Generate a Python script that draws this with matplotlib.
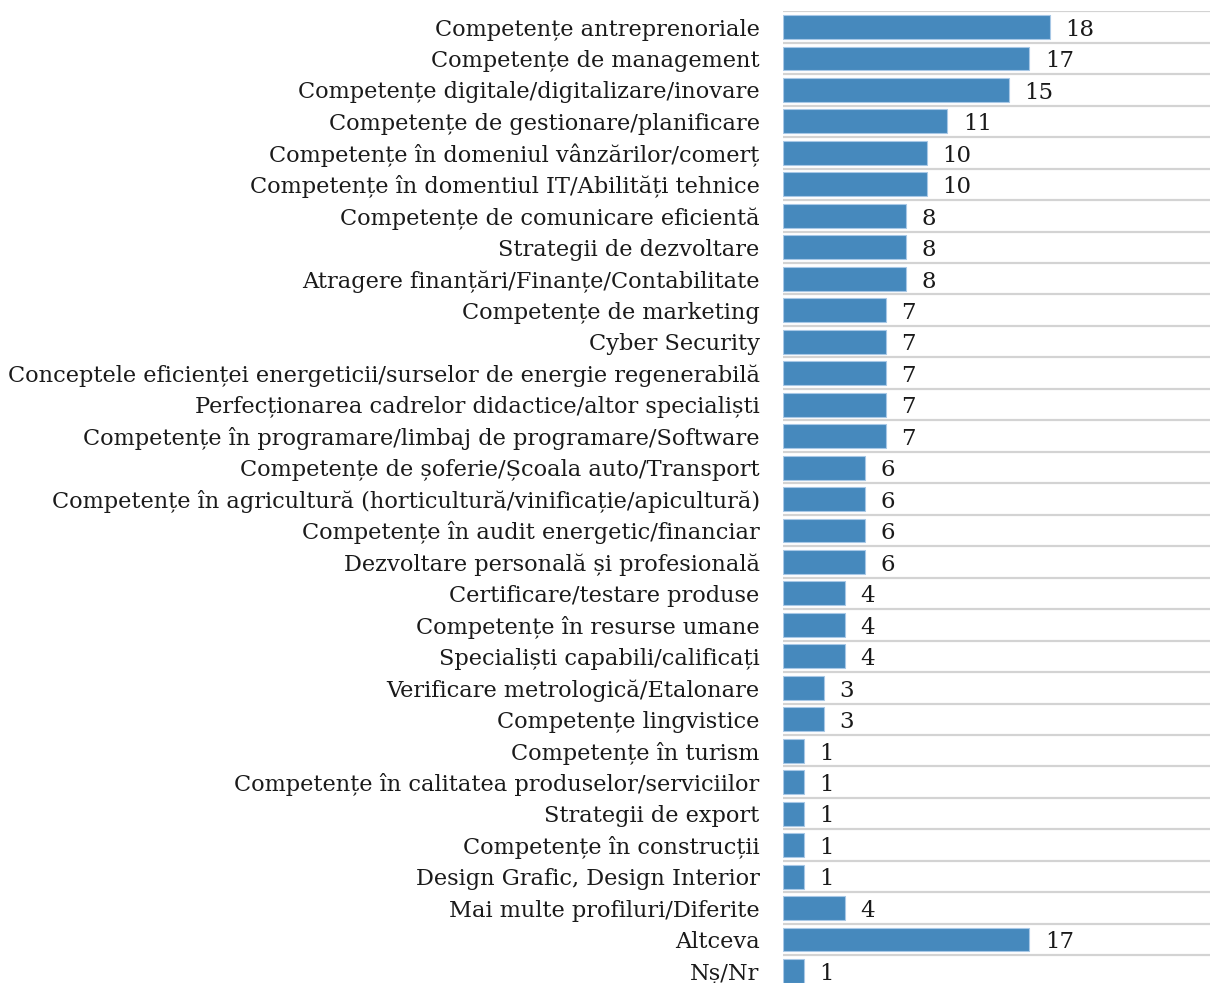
import matplotlib
matplotlib.use("Agg")
import matplotlib.pyplot as plt

categories = [
    "Competențe antreprenoriale",
    "Competențe de management",
    "Competențe digitale/digitalizare/inovare",
    "Competențe de gestionare/planificare",
    "Competențe în domeniul vânzărilor/comerț",
    "Competențe în domentiul IT/Abilități tehnice",
    "Competențe de comunicare eficientă",
    "Strategii de dezvoltare",
    "Atragere finanțări/Finanțe/Contabilitate",
    "Competențe de marketing",
    "Cyber Security",
    "Conceptele eficienței energeticii/surselor de energie regenerabilă",
    "Perfecționarea cadrelor didactice/altor specialiști",
    "Competențe în programare/limbaj de programare/Software",
    "Competențe de șoferie/Școala auto/Transport",
    "Competențe în agricultură (horticultură/vinificație/apicultură)",
    "Competențe în audit energetic/financiar",
    "Dezvoltare personală și profesională",
    "Certificare/testare produse",
    "Competențe în resurse umane",
    "Specialiști capabili/calificați",
    "Verificare metrologică/Etalonare",
    "Competențe lingvistice",
    "Competențe în turism",
    "Competențe în calitatea produselor/serviciilor",
    "Strategii de export",
    "Competențe în construcții",
    "Design Grafic, Design Interior",
    "Mai multe profiluri/Diferite",
    "Altceva",
    "Nș/Nr",
]

# numbers printed next to the bars
counts = [18, 17, 15, 11, 10, 10, 8, 8, 8, 7, 7, 7, 7, 7, 6, 6, 6, 6,
          4, 4, 4, 3, 3, 1, 1, 1, 1, 1, 4, 17, 1]

# bar lengths as drawn in the picture (not proportional to the printed numbers)
bar_len = [13, 12, 11, 8, 7, 7, 6, 6, 6, 5, 5, 5, 5, 5, 4, 4, 4, 4,
           3, 3, 3, 2, 2, 1, 1, 1, 1, 1, 3, 12, 1]

plt.rcParams['font.family'] = ['DejaVu Serif']

fig = plt.figure(figsize=(12.10, 9.83), dpi=100)
ax = fig.add_axes([0.6474, -0.0038, 0.3526, 0.9923])

y = list(range(len(categories)))
xmax = 20.8

# separator lines between rows
ax.hlines([i - 0.5 for i in range(len(categories) + 1)], 0, xmax,
          color='#d3d3d3', linewidth=1.6, zorder=1)

ax.barh(y, bar_len, height=0.76, color='#4689BD', edgecolor='#a8c8e6',
        linewidth=0.8, zorder=2)

for yi, w, c in zip(y, bar_len, counts):
    ax.annotate(str(c), xy=(w, yi), xytext=(11, -2), textcoords='offset points',
                va='center', ha='left', fontsize=16.5, color='#1a1a1a')

ax.set_xlim(0, xmax)
ax.set_ylim(len(categories) - 0.5, -0.5)
ax.set_yticks(y)
ax.set_yticklabels(categories, fontsize=16.2, color='#1a1a1a')
ax.tick_params(axis='y', length=0, pad=17)
ax.set_xticks([])
for s in ax.spines.values():
    s.set_visible(False)

plt.savefig("out.png", dpi=100)
plt.close()
